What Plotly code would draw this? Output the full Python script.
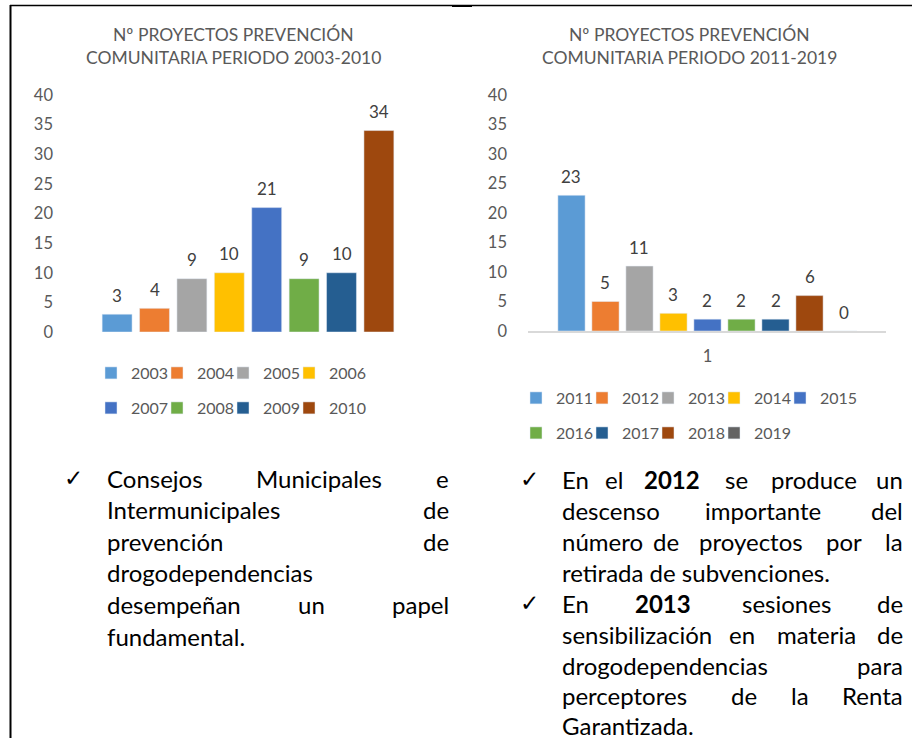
import plotly.graph_objects as go

W, H = 912, 738

# ---- data -------------------------------------------------------------
years_a = ["2003", "2004", "2005", "2006", "2007", "2008", "2009", "2010"]
counts_a = [3, 4, 9, 10, 21, 9, 10, 34]

years_b = ["2011", "2012", "2013", "2014", "2015", "2016", "2017", "2018", "2019"]
counts_b = [23, 5, 11, 3, 2, 2, 2, 6, 0]

y_ticks = [0, 5, 10, 15, 20, 25, 30, 35, 40]

title_a = ["Nº PROYECTOS PREVENCIÓN", "COMUNITARIA PERIODO 2003-2010"]
title_b = ["Nº PROYECTOS PREVENCIÓN", "COMUNITARIA PERIODO 2011-2019"]

palette = ["#5B9BD5", "#ED7D31", "#A5A5A5", "#FFC000", "#4472C4",
           "#70AD47", "#255E91", "#9E480E", "#636363"]

FONT = "Lato, 'DejaVu Sans', sans-serif"
GREY = "#595959"


def px(x):
    return x / W


def py(y):
    return 1 - y / H


fig = go.Figure()

# one single-entry legend per year so each swatch sits on its own grid slot
legend_layout = {}
slot = 0
INDENT = -10          # pulls swatch and label 10px left inside the legend box


def next_legend(sym_x, row_y):
    global slot
    slot += 1
    key = "legend" if slot == 1 else f"legend{slot}"
    legend_layout[key] = dict(
        orientation="h", x=px(sym_x - 20 - INDENT), y=py(row_y), xanchor="left",
        yanchor="middle", bgcolor="rgba(0,0,0,0)", borderwidth=0,
        indentation=INDENT,
        font=dict(family=FONT, size=16, color=GREY))
    return key


# ---- bars ------------------------------------------------------------
for i, (yr, v) in enumerate(zip(years_a, counts_a)):
    row, col = divmod(i, 4)
    fig.add_trace(go.Bar(
        x=[i], y=[v], width=0.8, name=yr, marker_color=palette[i],
        xaxis="x", yaxis="y",
        legend=next_legend(111 + 66 * col, 373 + 35 * row),
    ))
for i, (yr, v) in enumerate(zip(years_b, counts_b)):
    row, col = divmod(i, 5)
    fig.add_trace(go.Bar(
        x=[i], y=[v], width=0.8, name=yr, marker_color=palette[i],
        xaxis="x2", yaxis="y2",
        legend=next_legend(536 + 66 * col, 398 + 35 * row),
    ))

annotations = []

# value labels above each bar
for i, v in enumerate(counts_a):
    annotations.append(dict(x=i, y=v, xref="x", yref="y", text=str(v),
                            showarrow=False, yshift=19, yanchor="middle",
                            font=dict(family=FONT, size=17, color="#404040")))
for i, v in enumerate(counts_b):
    annotations.append(dict(x=i, y=v, xref="x2", yref="y2", text=str(v),
                            showarrow=False, yshift=19, yanchor="middle",
                            font=dict(family=FONT, size=17, color="#404040")))

# chart titles
for cx, lines in ((233, title_a), (689, title_b)):
    for k, line in enumerate(lines):
        annotations.append(dict(x=px(cx), y=py(35 + 23 * k), xref="paper", yref="paper",
                                text=line, showarrow=False, xanchor="center",
                                yanchor="middle",
                                font=dict(family=FONT, size=17.5, color=GREY)))

# ---- commentary (justified text, word by word) --------------------------
BODY = dict(family=FONT, size=24, color="#000000")


def add_line(y, left, right, words, justify=True):
    """words: list of (text, center_x or None). First word is left aligned,
    last word right aligned when the line is justified."""
    n = len(words)
    for k, (txt, cx) in enumerate(words):
        if k == 0:
            x, anchor = left, "left"
        elif k == n - 1 and justify:
            x, anchor = right, "right"
        else:
            x, anchor = cx, "center"
        annotations.append(dict(x=px(x), y=py(y), xref="paper", yref="paper",
                                text=txt, showarrow=False, xanchor=anchor,
                                yanchor="middle", borderpad=0, font=BODY))


def add_check(x, y):
    annotations.append(dict(x=px(x), y=py(y), xref="paper", yref="paper",
                            text="✓", showarrow=False, xanchor="center",
                            yanchor="middle",
                            font=dict(family="'DejaVu Sans'", size=23, color="#000000")))


LL, LR = 106, 450
add_check(73, 478)
add_line(478, LL, LR, [("Consejos", None), ("Municipales", 319), ("e", None)])
add_line(509, LL, LR, [("Intermunicipales", None), ("de", None)])
add_line(541, LL, LR, [("prevención", None), ("de", None)])
add_line(572, LL, LR, [("drogodependencias", None)], justify=False)
add_line(604, LL, LR, [("desempeñan", None), ("un", 311), ("papel", None)])
add_line(636, LL, LR, [("fundamental.", None)], justify=False)

RL, RR = 561, 904
add_check(529, 479)
add_line(479, RL, RR, [("En", None), ("el", 614), ("<b>2012</b>", 672), ("se", 736),
                       ("produce", 814), ("un", None)])
add_line(510, RL, RR, [("descenso", None), ("importante", 763), ("del", None)])
add_line(541, RL, RR, [("número", None), ("de", 666), ("proyectos", 751), ("por", 844),
                       ("la", None)])
add_line(572, RL, RR, [("retirada de subvenciones.", None)], justify=False)
add_check(529, 603)
add_line(603, RL, RR, [("En", None), ("<b>2013</b>", 663), ("sesiones", 786), ("de", None)])
add_line(634, RL, RR, [("sensibilización", None), ("en", 742), ("materia", 816), ("de", None)])
add_line(665, RL, RR, [("drogodependencias", None), ("para", None)])
add_line(695, RL, RR, [("perceptores", None), ("de", 744), ("la", 800), ("Renta", None)])
add_line(725, RL, RR, [("Garantizada.", None)], justify=False)

# ---- frame lines ------------------------------------------------------
shapes = [
    dict(type="line", xref="paper", yref="paper", x0=px(10), x1=px(912),
         y0=py(5.5), y1=py(5.5), line=dict(color="#000000", width=1.5)),
    dict(type="line", xref="paper", yref="paper", x0=px(10.5), x1=px(10.5),
         y0=py(5), y1=py(738), line=dict(color="#000000", width=2)),
    dict(type="rect", xref="paper", yref="paper", x0=px(452), x1=px(472),
         y0=py(7), y1=py(5), line=dict(width=0), fillcolor="#000000"),
]

fig.update_layout(
    width=W, height=H,
    margin=dict(l=0, r=0, t=0, b=0, autoexpand=False),
    paper_bgcolor="#FFFFFF", plot_bgcolor="rgba(0,0,0,0)",
    barmode="overlay",
    showlegend=True,
    xaxis=dict(domain=[px(72), px(424)], range=[-1.206, 8.206], showticklabels=False,
               showgrid=False, zeroline=False, showline=False, ticks="", fixedrange=True),
    yaxis=dict(domain=[py(332), py(95)], range=[0, 40], tickvals=y_ticks,
               showgrid=False, zeroline=False, showline=False, ticks="",
               ticklabelstandoff=18, tickfont=dict(family=FONT, size=16.5, color=GREY)),
    xaxis2=dict(domain=[px(528), px(886)], range=[-1.279, 9.25], tickvals=[4],
                ticktext=["1"], showgrid=False, zeroline=False, showline=True,
                linecolor="#D9D9D9", linewidth=1.5, ticks="", ticklabelstandoff=9,
                tickfont=dict(family=FONT, size=16.5, color=GREY), anchor="y2"),
    yaxis2=dict(domain=[py(331), py(95)], range=[0, 40], tickvals=y_ticks,
                showgrid=False, zeroline=False, showline=False, ticks="",
                ticklabelstandoff=20, tickfont=dict(family=FONT, size=16.5, color=GREY),
                anchor="x2"),
    annotations=annotations,
    shapes=shapes,
    **legend_layout,
)

fig.write_html("out.html")
